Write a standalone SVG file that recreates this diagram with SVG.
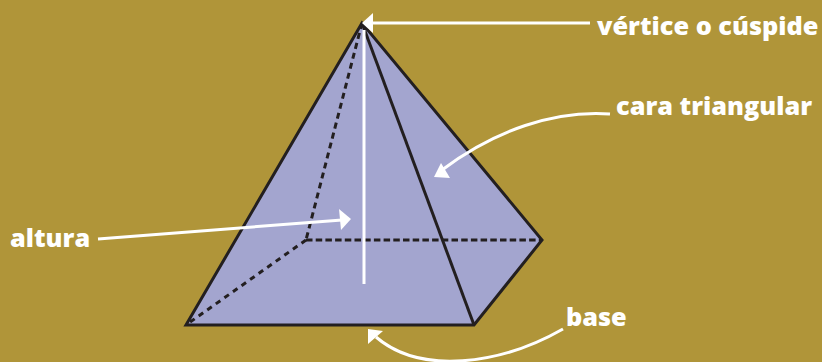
<svg xmlns="http://www.w3.org/2000/svg" width="822" height="362" viewBox="0 0 822 362">
<style>
.lbl{font-family:"Open Sans","Noto Sans","Liberation Sans",sans-serif;font-weight:800;font-size:25.3px;fill:#fff}
.edge{fill:none;stroke:#231f20;stroke-width:3;stroke-linejoin:miter}
.dash{fill:none;stroke:#231f20;stroke-width:3}
.ptr{fill:none;stroke:#fff;stroke-width:3}
.head{fill:#fff}
</style>
<rect id="background" width="822" height="362" fill="#b09539"/>
<g id="pyramid">
<polygon points="362,23 186,325 474,325 542,240" fill="#a3a5cf"/>
<path class="dash" stroke-dasharray="6 4.3" d="M362,23 L306,240"/>
<path class="dash" stroke-dasharray="6.5 3.2" d="M306,240 L542,240"/>
<path class="dash" stroke-dasharray="5.5 5" d="M306,240 L186,325"/>
<path class="edge" d="M362,23 L186,325 L474,325 L542,240 Z"/>
<path class="edge" d="M362,23 L474,325"/>
</g>
<g id="connectors">
<path class="ptr" d="M364,30 L364,284"/>
<path class="ptr" d="M372,23 L590,23"/>
<polygon class="head" points="362,23 373,13 373,33"/>
<path class="ptr" d="M610,114 C555,110 495,130 442,170"/>
<polygon class="head" points="434,177 450,178 441,163"/>
<path class="ptr" d="M98,239 L342,220"/>
<polygon class="head" points="351,219 339,209 341,230"/>
<path class="ptr" d="M563,329 C500,365 420,375 376,337"/>
<polygon class="head" points="368,329 383,331 368,344"/>
</g>
<g id="label-vertice"><text class="lbl" x="597" y="35">vértice o cúspide</text></g>
<g id="label-cara"><text class="lbl" x="616" y="115">cara triangular</text></g>
<g id="label-altura"><text class="lbl" x="10" y="247">altura</text></g>
<g id="label-base"><text class="lbl" x="566" y="326">base</text></g>
</svg>
